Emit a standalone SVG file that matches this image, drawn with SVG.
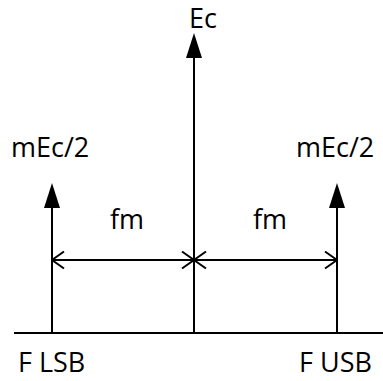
<svg xmlns="http://www.w3.org/2000/svg" width="383" height="381" viewBox="0 0 383 381">
  <style>
    .ln { stroke: #000; stroke-width: 2; fill: none; }
    .head { fill: #000; stroke: none; }
    .lbl { font-family: "Open Sans", "Liberation Sans", sans-serif; font-size: 27px; fill: #000; }
  </style>
  <defs>
    <!-- open dimension head -->
    <marker id="open" markerUnits="userSpaceOnUse" markerWidth="14" markerHeight="20" viewBox="0 0 14 20" refX="13" refY="10" orient="auto-start-reverse">
      <path d="M1,1.5 L13,10 L1,18.5" fill="none" stroke="#000" stroke-width="2"/>
    </marker>
  </defs>

  <g id="connectors">
    <!-- frequency axis -->
    <line class="ln" x1="14" y1="333" x2="383" y2="333"/>
    <!-- spectral lines with solid heads -->
    <line class="ln" x1="194" y1="333" x2="194" y2="55"/>
    <polygon class="head" points="194,33 202,58 186,58"/>
    <line class="ln" x1="52" y1="333" x2="52" y2="205"/>
    <polygon class="head" points="52,183 60,208 44,208"/>
    <line class="ln" x1="337" y1="333" x2="337" y2="205"/>
    <polygon class="head" points="337,183 345,208 329,208"/>
    <!-- fm spacing dimensions -->
    <line class="ln" x1="52" y1="260" x2="194" y2="260" marker-start="url(#open)" marker-end="url(#open)"/>
    <line class="ln" x1="194" y1="260" x2="337" y2="260" marker-start="url(#open)" marker-end="url(#open)"/>
  </g>

  <g id="carrier">
    <text class="lbl" x="189" y="28" font-size="26">Ec</text>
  </g>
  <g id="lsb">
    <text class="lbl" x="11" y="157">mEc/2</text>
    <text class="lbl" x="18" y="372">F LSB</text>
  </g>
  <g id="usb">
    <text class="lbl" x="296" y="157">mEc/2</text>
    <text class="lbl" x="299" y="372">F USB</text>
  </g>
  <g id="fm-left">
    <text class="lbl" x="110" y="229">fm</text>
  </g>
  <g id="fm-right">
    <text class="lbl" x="253" y="229">fm</text>
  </g>
</svg>
